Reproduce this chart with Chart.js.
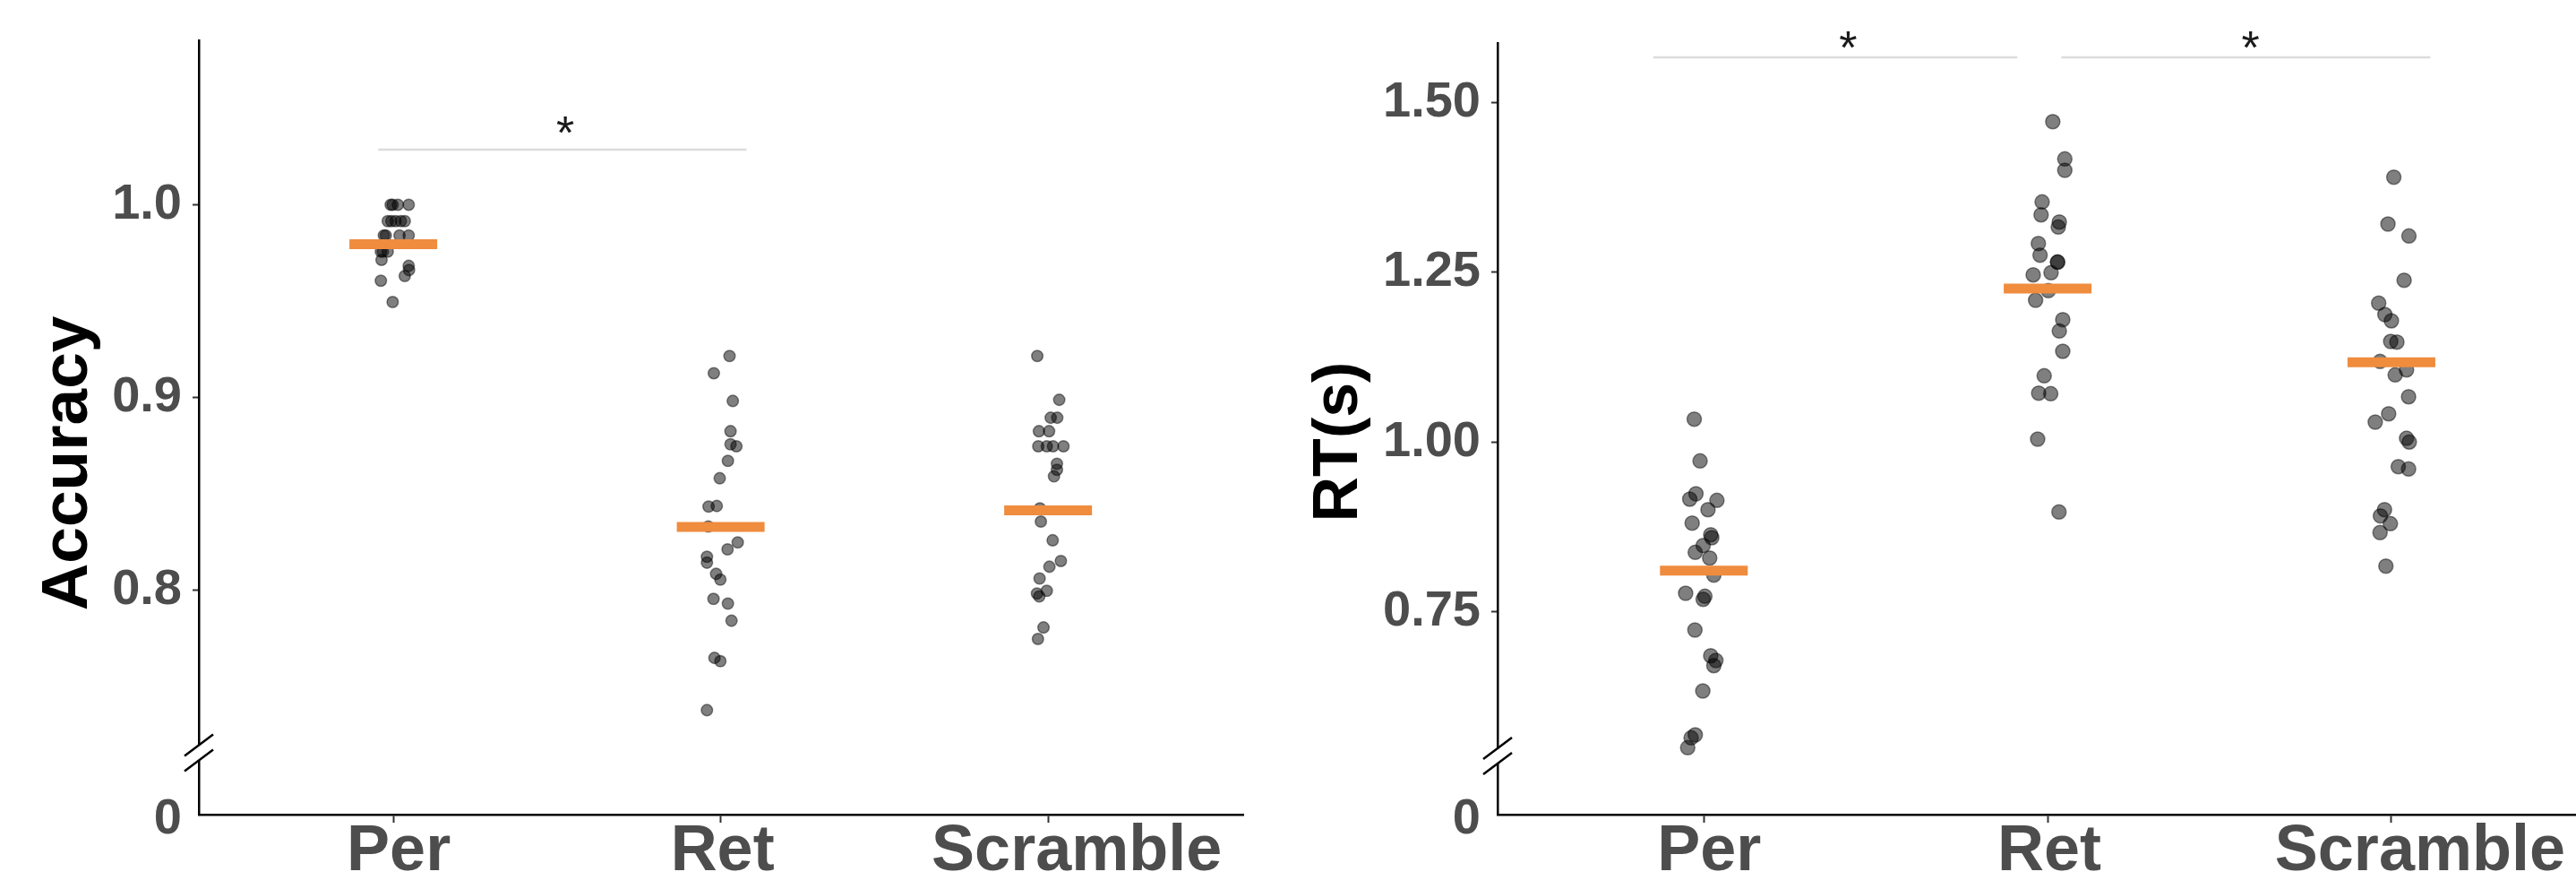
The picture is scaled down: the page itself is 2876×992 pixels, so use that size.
<!DOCTYPE html>
<html>
<head>
<meta charset="utf-8">
<script src="https://cdn.jsdelivr.net/npm/chart.js@4"></script>
<style>
  body { margin: 0; background: #fff; }
  #wrap { position: relative; width: 2876px; height: 992px; }
  canvas { position: absolute; top: 0; }
</style>
</head>
<body>
<div id="wrap">
  <canvas id="accChart" width="1440" height="992" style="left:0"></canvas>
  <canvas id="rtChart" width="1436" height="992" style="left:1440px"></canvas>
</div>
<script>
// categories and tick labels
const categories = ['Per', 'Ret', 'Scramble'];
const accTicks = [0.8, 0.9, 1.0];
const rtTicks = [0.75, 1.00, 1.25, 1.50];

// accuracy per subject (values) and horizontal jitter (category units)
const accPer = [1.0, 1.0, 1.0, 1.0, 0.9915, 0.9915, 0.9915, 0.9915, 0.9915, 0.984, 0.984, 0.984, 0.984,
  0.9757, 0.9757, 0.9757, 0.9714, 0.9683, 0.9661, 0.963, 0.9606, 0.9495];
const accPerJit = [-0.008, -0.002, 0.014, 0.047, -0.017, -0.006, 0.007, 0.023, 0.035, -0.029, -0.023, 0.019, 0.047,
  -0.038, -0.032, -0.017, -0.036, 0.047, 0.048, 0.035, -0.038, -0.002];
const accRet = [0.9215, 0.9126, 0.8982, 0.8825, 0.8757, 0.8747, 0.8671, 0.8581, 0.8434, 0.8437, 0.8331, 0.8248,
  0.8212, 0.8174, 0.8143, 0.8085, 0.8055, 0.7955, 0.7931, 0.7842, 0.7649, 0.7632, 0.7378];
const accRetJit = [0.027, -0.021, 0.037, 0.030, 0.030, 0.048, 0.022, -0.003, -0.037, -0.012, -0.038, 0.052,
  0.021, -0.042, -0.042, -0.014, -0.001, -0.022, 0.022, 0.033, -0.019, -0.001, -0.042];
const accScr = [0.9215, 0.8988, 0.8895, 0.8895, 0.8825, 0.8825, 0.8747, 0.8747, 0.8747, 0.8747, 0.8656, 0.8625,
  0.8591, 0.8425, 0.8356, 0.8259, 0.8152, 0.8122, 0.8061, 0.7983, 0.7997, 0.7968, 0.7807, 0.7747];
const accScrJit = [-0.033, 0.034, 0.008, 0.028, -0.028, 0.003, -0.030, -0.004, 0.015, 0.047, 0.027, 0.027,
  0.018, -0.025, -0.022, 0.014, 0.039, 0.004, -0.026, -0.034, -0.004, -0.027, -0.014, -0.031];
const accMeans = [0.9795, 0.8328, 0.8414];

// reaction time per subject (s)
const rtPer = [1.0337, 0.9721, 0.9237, 0.9158, 0.9140, 0.9003, 0.8805, 0.8633, 0.8590, 0.8475, 0.8374, 0.8290,
  0.8039, 0.7771, 0.7727, 0.7682, 0.7229, 0.6850, 0.6780, 0.6705, 0.6331, 0.5684, 0.5640, 0.5495];
const rtPerJit = [-0.028, -0.011, -0.023, -0.041, 0.038, 0.012, -0.034, 0.020, 0.023, -0.002, -0.025, 0.017,
  0.029, -0.053, 0.003, -0.002, -0.026, 0.020, 0.035, 0.029, -0.003, -0.025, -0.037, -0.047];
const rtRet = [1.4721, 1.4172, 1.4004, 1.3538, 1.3348, 1.3242, 1.3168, 1.2925, 1.2754, 1.2653, 1.2650, 1.2495,
  1.2463, 1.2231, 1.2089, 1.1803, 1.1636, 1.1337, 1.0976, 1.0720, 1.0712, 1.0042, 0.8969];
const rtRetJit = [0.015, 0.050, 0.050, -0.016, -0.019, 0.034, 0.031, -0.027, -0.022, 0.029, 0.029, 0.010,
  -0.042, 0.002, -0.035, 0.044, 0.034, 0.044, -0.010, -0.026, 0.009, -0.029, 0.033];
const rtScr = [1.3903, 1.3212, 1.3036, 1.2384, 1.2046, 1.1878, 1.1786, 1.1482, 1.1473, 1.1187, 1.1063, 1.0989,
  1.0667, 1.0416, 1.0293, 1.0055, 1.0000, 0.9637, 0.9603, 0.9003, 0.8911, 0.8797, 0.8665, 0.8171];
const rtScrJit = [0.007, -0.010, 0.051, 0.037, -0.037, -0.019, 0.000, -0.002, 0.016, -0.033, 0.044, 0.011,
  0.050, -0.008, -0.047, 0.044, 0.052, 0.020, 0.050, -0.020, -0.032, -0.003, -0.033, -0.016];
const rtMeans = [0.8105, 1.2261, 1.1174];

// significance brackets: [from, to, height, star position]
const accSig = [[-0.046, 1.079, 1.0286, 0.525]];
const rtSig = [[-0.147, 0.912, 1.567, 0.42], [1.04, 2.113, 1.567, 1.59]];

const FONT = '"Liberation Sans", Arial, sans-serif';
const ORANGE = '#ef8c3e';
const LABEL_GREY = '#4d4d4d';

function points(groups, jits) {
  const out = [];
  groups.forEach((vals, c) => vals.forEach((v, i) => out.push({ x: c + jits[c][i], y: v })));
  return out;
}

// axis break, "0" label, asterisks, category labels, y title
function decor(opts) {
  return {
    id: 'decor',
    afterDraw(chart) {
      const ctx = chart.ctx;
      const xs = chart.scales.x, ys = chart.scales.y;
      const x0 = chart.chartArea.left;
      const yb = ys.getPixelForValue(opts.breakAt);
      ctx.save();
      ctx.fillStyle = '#fff';
      ctx.fillRect(x0 - 4, yb - 8, 8, 16);
      ctx.strokeStyle = '#000';
      ctx.lineWidth = 2.5;
      [-8.5, 8.5].forEach(d => {
        ctx.beginPath();
        ctx.moveTo(x0 - 16, yb + d + 12);
        ctx.lineTo(x0 + 16, yb + d - 12);
        ctx.stroke();
      });

      ctx.fillStyle = LABEL_GREY;
      ctx.font = 'bold 56px ' + FONT;
      ctx.textAlign = 'right';
      ctx.textBaseline = 'middle';
      ctx.fillText('0', x0 - 19, xs.top + 6);

      ctx.fillStyle = '#1a1a1a';
      ctx.font = '52px ' + FONT;
      ctx.textAlign = 'center';
      ctx.textBaseline = 'alphabetic';
      opts.sig.forEach(s => {
        ctx.fillText('*', xs.getPixelForValue(s[3]), ys.getPixelForValue(s[2]) + opts.starDy);
      });

      ctx.fillStyle = LABEL_GREY;
      ctx.font = 'bold 72px ' + FONT;
      categories.forEach((c, i) => {
        ctx.fillText(c, xs.getPixelForValue(i) + opts.labelShift[i], xs.top + 62);
      });

      ctx.fillStyle = '#000';
      ctx.font = 'bold ' + opts.titleSize + 'px ' + FONT;
      ctx.translate(opts.titleX, opts.titleY);
      ctx.rotate(-Math.PI / 2);
      ctx.fillText(opts.title, 0, 0);
      ctx.restore();
    }
  };
}

function makeChart(id, cfg) {
  const datasets = [
    {
      data: cfg.means.map((m, i) => ({ x: i, y: m })),
      pointStyle: 'line', pointRadius: 49, borderColor: ORANGE, borderWidth: 11, order: 0
    },
    {
      data: points(cfg.groups, cfg.jits),
      pointRadius: cfg.radius, backgroundColor: 'rgba(0,0,0,0.5)', borderColor: 'rgba(0,0,0,0.45)',
      borderWidth: 1.5, order: 1
    }
  ];
  cfg.sig.forEach(s => datasets.push({
    data: [{ x: s[0], y: s[2] }, { x: s[1], y: s[2] }],
    showLine: true, pointRadius: 0, borderColor: '#dcdcdc', borderWidth: 2.5, order: 2
  }));
  datasets.forEach(d => { d.clip = false; });

  return new Chart(document.getElementById(id), {
    type: 'scatter',
    data: { datasets },
    options: {
      responsive: false,
      animation: false,
      events: [],
      layout: { autoPadding: false, padding: { top: cfg.top, right: cfg.right, left: 0, bottom: 0 } },
      plugins: { legend: { display: false }, tooltip: { enabled: false } },
      scales: {
        x: {
          type: 'linear', min: cfg.xMin, max: cfg.xMax,
          afterBuildTicks: s => { s.ticks = categories.map((c, i) => ({ value: i })); },
          afterFit: s => { s.height = 83; },
          ticks: { display: false },
          grid: { drawOnChartArea: false, tickLength: 9, tickColor: '#333', tickWidth: 2 },
          border: { color: '#000', width: 2.5 }
        },
        y: {
          min: cfg.yMin, max: cfg.yMax,
          afterBuildTicks: s => { s.ticks = [{ value: cfg.yMin }].concat(cfg.ticks.map(v => ({ value: v }))); },
          afterFit: s => { s.width = cfg.yWidth; },
          ticks: {
            color: LABEL_GREY, padding: 12,
            font: { family: FONT, size: 56, weight: 'bold' },
            callback: v => v === cfg.yMin ? '' : v.toFixed(cfg.digits)
          },
          grid: {
            drawOnChartArea: false, tickLength: 7, tickWidth: 2,
            tickColor: c => (c.tick && c.tick.value === cfg.yMin) ? 'rgba(0,0,0,0)' : '#333'
          },
          border: { color: '#000', width: 2.5 }
        }
      }
    },
    plugins: [decor({
      breakAt: cfg.breakAt, sig: cfg.sig, starDy: cfg.starDy, labelShift: [6, 2, 32],
      title: cfg.title, titleSize: cfg.titleSize, titleX: cfg.titleX, titleY: cfg.titleY
    })]
  });
}

makeChart('accChart', {
  title: 'Accuracy', titleSize: 73, titleX: 97, titleY: 517,
  groups: [accPer, accRet, accScr], jits: [accPerJit, accRetJit, accScrJit], means: accMeans,
  ticks: accTicks, digits: 1, sig: accSig, starDy: -1,
  yMin: 0.6836, yMax: 1.085, xMin: -0.594, xMax: 2.596, breakAt: 0.7157,
  yWidth: 222, top: 36, right: 52, radius: 6.3
});

makeChart('rtChart', {
  title: 'RT(s)', titleSize: 70, titleX: 75, titleY: 493,
  groups: [rtPer, rtRet, rtScr], jits: [rtPerJit, rtRetJit, rtScrJit], means: rtMeans,
  ticks: rtTicks, digits: 2, sig: rtSig, starDy: 7,
  yMin: 0.4509, yMax: 1.588, xMin: -0.600, xMax: 2.537, breakAt: 0.5374,
  yWidth: 232, top: 48, right: 0, radius: 8
});
</script>
</body>
</html>
